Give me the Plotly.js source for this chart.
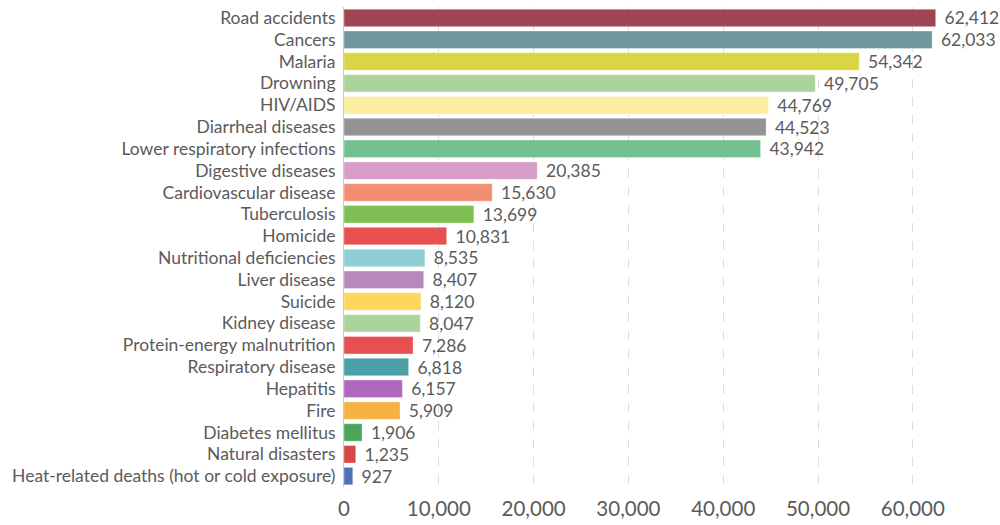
<!DOCTYPE html>
<html>
<head>
<meta charset="utf-8">
<script src="https://cdn.plot.ly/plotly-3.0.1.min.js"></script>
<style>html,body{margin:0;padding:0;background:#fff;}#chart{width:1000px;height:525px;}</style>
</head>
<body>
<div id="chart"></div>
<script>
const categories = [
  "Road accidents","Cancers","Malaria","Drowning","HIV/AIDS","Diarrheal diseases",
  "Lower respiratory infections","Digestive diseases","Cardiovascular disease","Tuberculosis",
  "Homicide","Nutritional deficiencies","Liver disease","Suicide","Kidney disease",
  "Protein-energy malnutrition","Respiratory disease","Hepatitis","Fire","Diabetes mellitus",
  "Natural disasters","Heat-related deaths (hot or cold exposure)"
];
const deaths = [62412,62033,54342,49705,44769,44523,43942,20385,15630,13699,10831,8535,8407,8120,8047,7286,6818,6157,5909,1906,1235,927];
const barColors = [
  "#a04653","#6f979c","#d9d543","#aad49c","#fcec9e","#939393","#72c08f","#d69ec6",
  "#f28f72","#7dbf50","#e75051","#91ced4","#b888bd","#fdd75c","#aad49c","#e75051",
  "#4aa2a8","#b067c0","#f6b044","#4ba55a","#d94646","#4e72b5"
];
const xTicks = [0,10000,20000,30000,40000,50000,60000];

const trace = {
  type: "bar",
  orientation: "h",
  y: categories,
  x: deaths,
  marker: {color: barColors, line: {color: "rgba(255,255,255,0.35)", width: 1}},
  width: 0.8,
  text: deaths.map(v => "\u2004" + v.toLocaleString("en-US")),
  textposition: "outside",
  constraintext: "none",
  cliponaxis: false,
  textfont: {family: "Lato, sans-serif", size: 17.5, color: "#5b5b5b"},
  hoverinfo: "none"
};

const layout = {
  width: 1000, height: 525,
  margin: {l: 344, r: 30, t: 7, b: 37.5},
  paper_bgcolor: "#fff", plot_bgcolor: "#fff",
  font: {family: "Lato, sans-serif", size: 17.5, color: "#5b5b5b"},
  showlegend: false,
  xaxis: {
    range: [0, 66030],
    tickvals: xTicks,
    ticktext: xTicks.map(v => v.toLocaleString("en-US")),
    tickfont: {size: 20.5, color: "#5b5b5b"},
    showgrid: true, gridcolor: "#dcdcdc", griddash: "dash", gridwidth: 1,
    zeroline: false, showline: false, ticks: "", ticklabelstandoff: 7
  },
  yaxis: {
    type: "category",
    autorange: "reversed",
    tickfont: {size: 17.5, color: "#5b5b5b"},
    showgrid: false, zeroline: false,
    showline: true, linecolor: "#c8c8c8", linewidth: 1,
    ticks: "", ticklabelstandoff: 4
  }
};

Plotly.newPlot("chart", [trace], layout, {displayModeBar: false, staticPlot: true});
</script>
</body>
</html>
